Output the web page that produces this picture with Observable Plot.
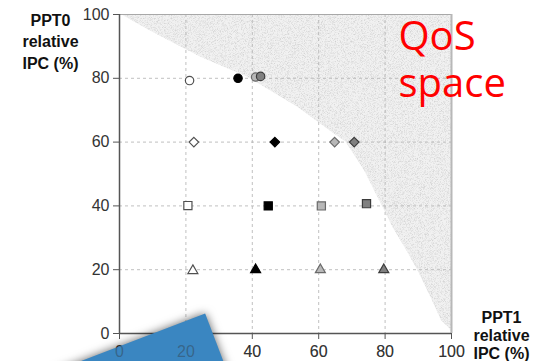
<!DOCTYPE html>
<html><head><meta charset="utf-8">
<script src="https://cdn.jsdelivr.net/npm/d3@7"></script>
<script src="https://cdn.jsdelivr.net/npm/@observablehq/plot@0.6"></script>
<style>html,body{margin:0;padding:0;background:#fff;overflow:hidden}</style>
</head><body><div id="chart"></div>
<script>
// ---- data ----
const xTicks = [0, 20, 40, 60, 80, 100];
const yTicks = [0, 20, 40, 60, 80, 100];
const gridTicks = [20, 40, 60, 80];
const seriesFill = ["#ffffff", "#000000", "#b8b8b8", "#808080"];
const seriesStroke = ["#505050", "#000000", "#6a6a6a", "#3c3c3c"];

const circleX = [21.1, 35.7, 41.0, 42.5];
const circleY = [79.3, 80.0, 80.4, 80.6];
const diamondX = [22.4, 46.8, 64.8, 70.7];
const diamondY = [60, 60, 60, 60];
const squareX = [20.6, 44.8, 60.8, 74.4];
const squareY = [40.1, 40, 40, 40.7];
const triangleX = [22.1, 41.0, 60.5, 79.6];
const triangleY = [19.7, 20, 20, 20];

const qosBoundaryX = [0.5, 9, 24.5, 38.5, 53.6, 64.6, 68.2, 73.8, 78.8, 82.5, 86.5, 89.9, 93.5, 97, 99.5, 100];
const qosBoundaryY = [100, 95, 86.6, 80.4, 71, 62.6, 60, 51, 40.7, 33, 26, 19.7, 12, 4, 1.5, 0];

const blueShapeX = [25.8, 35.8, -42.6];
const blueShapeY = [6.3, -21, -21];

const yTitle = "PPT0\nrelative\nIPC (%)";
const xTitle = "PPT1\nrelative\nIPC (%)";
const qosLine1 = "QoS";
const qosLine2 = "space";

// ---- build ----
const rows = (xs, ys) => xs.map((x, i) => ({x, y: ys[i], fill: seriesFill[i], stroke: seriesStroke[i]}));
const boundary = qosBoundaryX.map((x, i) => ({x1: x, x2: 100, y: qosBoundaryY[i]}));
const blue = blueShapeX.map((x, i) => ({x, y: blueShapeY[i]}));

const font = "'Liberation Sans', Arial, sans-serif";
const tickStyle = {tickSize: 6, fontSize: 16, label: null};

const chart = Plot.plot({
  width: 535,
  height: 361,
  marginLeft: 119,
  marginRight: 84,
  marginTop: 14,
  marginBottom: 28,
  style: {fontFamily: font, fontSize: "16px", background: "#fff", overflow: "visible"},
  x: {domain: [0, 100]},
  y: {domain: [0, 100]},
  color: {type: "identity"},
  marks: [
    Plot.areaX(boundary, {x1: "x1", x2: "x2", y: "y", fill: "#f1f1f1", ariaDescription: "qos"}),
    Plot.gridX(gridTicks, {stroke: "#b0b0b0", strokeOpacity: 1, strokeDasharray: "3,3", strokeWidth: 0.8}),
    Plot.gridY(gridTicks, {stroke: "#b0b0b0", strokeOpacity: 1, strokeDasharray: "3,3", strokeWidth: 0.8}),
    Plot.ruleY([100], {stroke: "#a8a8a8", strokeWidth: 1.2}),
    Plot.ruleX([100], {stroke: "#b8b8b8", strokeWidth: 2}),
    Plot.axisY(yTicks, {...tickStyle, tickPadding: 4, fill: "#333", stroke: "#555"}),
    Plot.axisX(xTicks, {...tickStyle, tickPadding: 6, fill: "#333", stroke: "#555"}),
    Plot.ruleX([0], {stroke: "#555", strokeWidth: 1.5}),
    Plot.ruleY([0], {stroke: "#555", strokeWidth: 1.5}),
    Plot.line(blue, {x: "x", y: "y", fill: "#3a86c1", stroke: "none", ariaDescription: "blueshape"}),
    Plot.axisX(xTicks, {...tickStyle, tickPadding: 6, fill: "#333", fillOpacity: 0.4, stroke: "none"}),
    Plot.dot(rows(circleX, circleY), {x: "x", y: "y", fill: "fill", stroke: "stroke", symbol: "circle", r: 4.2, strokeWidth: 1.2}),
    Plot.dot(rows(diamondX, diamondY), {x: "x", y: "y", fill: "fill", stroke: "stroke", symbol: "diamond2", r: 4.3, strokeWidth: 1.2}),
    Plot.dot(rows(squareX, squareY), {x: "x", y: "y", fill: "fill", stroke: "stroke", symbol: "square", r: 4.6, strokeWidth: 1.2}),
    Plot.dot(rows(triangleX, triangleY), {x: "x", y: "y", fill: "fill", stroke: "stroke", symbol: "triangle", r: 3.7, strokeWidth: 1.2}),
    Plot.text([yTitle], {text: d => d, frameAnchor: "top-left", dx: -69, dy: -4, textAnchor: "middle", lineAnchor: "top", fontSize: 16, fontWeight: "bold", lineHeight: 1.35, fill: "#111"}),
    Plot.text([xTitle], {text: d => d, frameAnchor: "top-left", dx: 382, dy: 295.6, textAnchor: "middle", lineAnchor: "top", fontSize: 16, fontWeight: "bold", lineHeight: 1.13, fill: "#111"}),
    Plot.text([qosLine1], {text: d => d, frameAnchor: "top-left", dx: 279, dy: 6.6, textAnchor: "start", lineAnchor: "top", fontSize: 40, fontFamily: "'Open Sans', sans-serif", fill: "#ff0000"}),
    Plot.text([qosLine2], {text: d => d, frameAnchor: "top-left", dx: 279, dy: 53.6, textAnchor: "start", lineAnchor: "top", fontSize: 40, fontFamily: "'Open Sans', sans-serif", fill: "#ff0000"})
  ]
});
document.getElementById("chart").appendChild(chart);

// speckled texture for the QoS region
const NS = "http://www.w3.org/2000/svg";
const defs = document.createElementNS(NS, "defs");
defs.innerHTML = `<filter id="speckle" x="0" y="0" width="100%" height="100%" color-interpolation-filters="sRGB">
  <feTurbulence type="fractalNoise" baseFrequency="1.3" numOctaves="2" seed="7" result="noise"/>
  <feColorMatrix in="noise" type="matrix" values="0 0 0 0 0.62  0 0 0 0 0.62  0 0 0 0 0.62  0 0 0 0.9 -0.4" result="dots"/>
  <feComposite in="dots" in2="SourceAlpha" operator="in" result="clipped"/>
  <feMerge><feMergeNode in="SourceGraphic"/><feMergeNode in="clipped"/></feMerge>
</filter>`;
chart.insertBefore(defs, chart.firstChild);
const qos = chart.querySelector('g[aria-description="qos"]');
if (qos) qos.setAttribute("filter", "url(#speckle)");
const g = chart.querySelector('g[aria-description="blueshape"]');
if (g) g.style.filter = "drop-shadow(0px 0px 5px rgba(0,0,0,0.6))";
</script>
</body></html>
